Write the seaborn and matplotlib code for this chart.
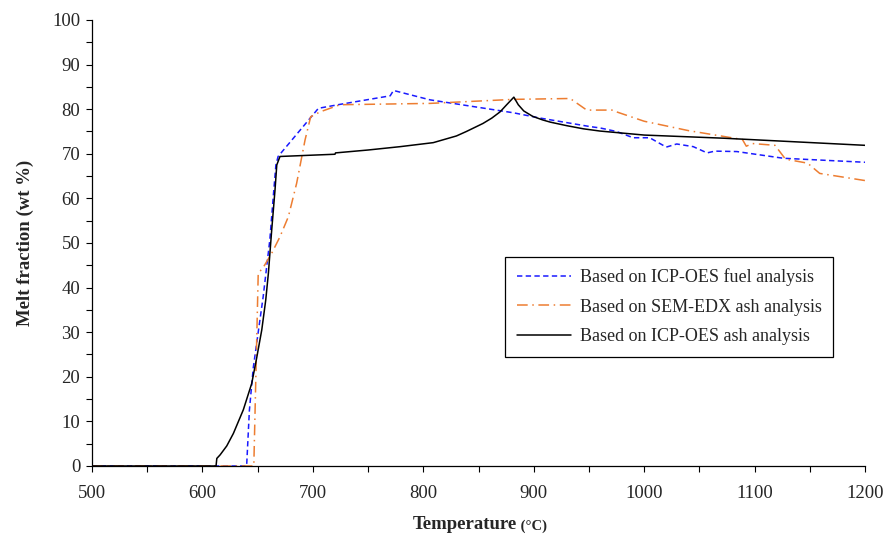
import matplotlib
matplotlib.use("Agg")
import matplotlib.pyplot as plt
from matplotlib.ticker import MultipleLocator
import seaborn as sns
import pandas as pd

# Melt fraction curves (wt %) versus temperature (°C)
temp_fuel = [500, 640, 642.5, 646, 650.5, 655, 661, 664, 666.5, 668.5, 705,
             725, 770, 773, 806, 881.5, 906, 951, 960, 975, 990, 1005, 1020,
             1029.5, 1044.5, 1057, 1064, 1084, 1126, 1200]
melt_fuel = [0, 0, 12.5, 22, 30, 38, 50.7, 60, 67.5, 69.4, 80.2,
             81.1, 83, 84.2, 82.1, 79.2, 78, 76.1, 75.8, 75, 73.6, 73.6, 71.5,
             72.2, 71.6, 70.2, 70.6, 70.5, 69, 68.1]

temp_sem = [500, 646.5, 650.5, 655, 662.7, 670.2, 677.8, 685.3, 692.9, 698, 706.5,
            724.6, 806, 881.5, 933, 948, 972, 975, 1000, 1040, 1089, 1092.5, 1098,
            1118.5, 1128, 1148, 1159, 1200]
melt_sem = [0, 0, 43.2, 44.5, 47.7, 51.4, 55.9, 63.4, 73.1, 78.3, 79.4,
            81, 81.3, 82.2, 82.4, 79.8, 79.8, 79.4, 77.3, 75.2, 73.2, 71.7, 72.3,
            71.9, 68.8, 67.9, 65.6, 64]

temp_ash = [500, 612.3, 613, 616, 622, 628, 637, 644.6, 649, 653.7, 657.3, 659.7,
            662.7, 665.7, 667.3, 670.2, 720, 720.5, 750, 779, 809, 830, 839, 854,
            862, 869.5, 875.5, 882, 886, 891, 899, 908, 915, 930, 945, 960, 1000,
            1071.5, 1200]
melt_ash = [0, 0, 1.7, 2.5, 4.5, 7.3, 12.6, 18.5, 24.1, 30.5, 37.2, 43.2,
            52.9, 61.9, 67.5, 69.4, 69.9, 70.2, 70.85, 71.6, 72.5, 74.0, 75.0, 76.8,
            78.0, 79.4, 81.0, 82.7, 81.0, 79.6, 78.4, 77.6, 77.1, 76.3, 75.6, 75.1, 74.2,
            73.5, 71.9]

labels = ["Based on ICP-OES fuel analysis",
          "Based on SEM-EDX ash analysis",
          "Based on ICP-OES ash analysis"]

sns.set_style("ticks")
plt.rcParams["font.family"] = ["Liberation Serif", "DejaVu Serif"]

fig = plt.figure(figsize=(8.85, 5.36), dpi=100)
ax = fig.add_axes([0.104, 0.1306, 0.8734, 0.8321])

fuel = pd.DataFrame({"T": temp_fuel, "m": melt_fuel})
sem = pd.DataFrame({"T": temp_sem, "m": melt_sem})
ash = pd.DataFrame({"T": temp_ash, "m": melt_ash})

sns.lineplot(data=fuel, x="T", y="m", ax=ax, estimator=None, sort=False,
             color="#1a1aff", linewidth=1.1, label=labels[0])
sns.lineplot(data=sem, x="T", y="m", ax=ax, estimator=None, sort=False,
             color="#ed7d31", linewidth=1.1, label=labels[1])
sns.lineplot(data=ash, x="T", y="m", ax=ax, estimator=None, sort=False,
             color="black", linewidth=1.1, label=labels[2])

ax.lines[0].set_dashes([3.5, 2.2])
ax.lines[1].set_dashes([7, 3, 1, 3])

ax.set_xlim(500, 1200)
ax.set_ylim(0, 100)
ax.xaxis.set_major_locator(MultipleLocator(100))
ax.xaxis.set_minor_locator(MultipleLocator(50))
ax.yaxis.set_major_locator(MultipleLocator(10))
ax.yaxis.set_minor_locator(MultipleLocator(5))
ax.tick_params(which="both", direction="out", length=4.5, width=0.8,
               labelsize=13.5, color="black", pad=4)
ax.tick_params(axis="x", pad=9)

for side in ("top", "right"):
    ax.spines[side].set_visible(False)
for side in ("left", "bottom"):
    ax.spines[side].set_color("black")
    ax.spines[side].set_linewidth(0.9)

ax.set_ylabel("Melt fraction (wt %)", fontsize=13.5, fontweight="bold", labelpad=13)
ax.set_xlabel("Temperature", fontsize=13.5, fontweight="bold")
ax.xaxis.set_label_coords(0.482, -0.113)
ax.annotate(" (°C)", xy=(1, 0), xycoords=ax.xaxis.label, va="bottom", ha="left",
            fontsize=10.5, fontweight="bold")

leg = ax.legend(loc="upper left", bbox_to_anchor=(0.534, 0.469), borderaxespad=0,
                fontsize=13, handlelength=3.0, handletextpad=0.5,
                labelspacing=0.68, borderpad=0.65, fancybox=False, framealpha=1)
leg.get_frame().set_edgecolor("black")
leg.get_frame().set_linewidth(0.9)

fig.savefig("out.png", dpi=100)
